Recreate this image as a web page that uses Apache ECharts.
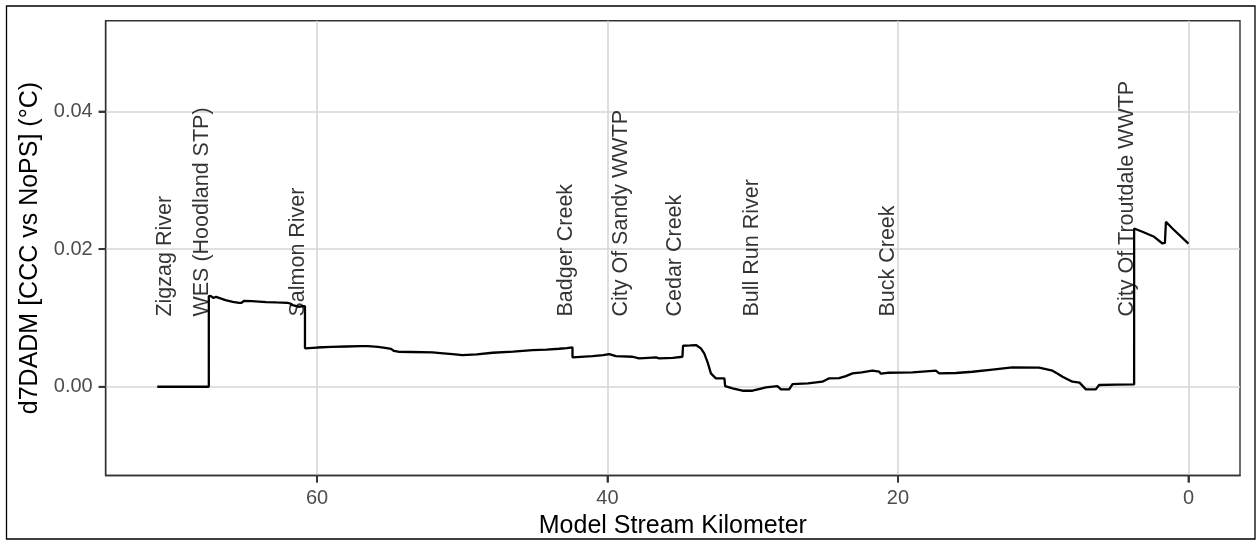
<!DOCTYPE html>
<html>
<head>
<meta charset="utf-8">
<script src="https://cdn.jsdelivr.net/npm/echarts@6/dist/echarts.min.js"></script>
<style>
html,body{margin:0;padding:0;background:#fff;}
#chart{width:1256px;height:540px;}
</style>
</head>
<body>
<div id="chart"></div>
<script>
// Model stream kilometer (x) and d7DADM difference (y, °C)
const streamKm = [
  71.0, 67.45, 67.45, 67.3, 67.15, 66.95, 66.85, 66.3, 65.8, 65.36, 65.2, 65.01, 64.5, 63.5, 62.8, 62.03, 61.85, 61.68, 61.23, 61.0, 60.83,
  60.83, 60.0, 59.0, 58.0, 57.0, 56.5, 55.8, 55.2, 54.9, 54.7, 54.34, 53.5, 52.05, 51.5, 50.67, 49.98, 49.0, 47.92, 46.5, 45.16, 44.2, 43.33, 42.8, 42.41,
  42.41, 41.03, 40.3, 39.88, 39.42, 38.28, 37.82, 37.2, 36.67, 36.44, 35.5, 34.84,
  34.8, 34.3, 33.91, 33.57, 33.34, 33.1, 32.88, 32.54, 31.95, 31.9, 31.39, 30.71, 30.02, 29.5, 29.09, 28.3, 28.06, 27.49, 27.26, 26.2, 25.2, 24.74,
  24.05, 23.59, 23.13, 22.5, 21.76, 21.3, 21.18, 21.07, 20.72, 19.0, 17.39, 17.16, 16.0, 14.87, 13.5, 12.12, 10.28, 9.36, 9.0, 8.67, 7.99, 7.5, 7.06, 6.38, 6.15, 5.0, 3.74,
  3.74, 3.17, 2.36, 1.79, 1.62, 1.55, 1.10, 0.0
];
const d7dadm = [
  0, 0, 0.0132, 0.01317, 0.0129, 0.01305, 0.0128, 0.0126, 0.01235, 0.0122, 0.0122, 0.01249, 0.01245, 0.0123, 0.01225, 0.0122, 0.0121, 0.01187, 0.01162, 0.0117, 0.0117,
  0.00558, 0.0057, 0.0058, 0.00585, 0.0059, 0.0059, 0.0058, 0.0056, 0.0055, 0.0052, 0.00508, 0.00505, 0.0050, 0.0049, 0.00475, 0.0046, 0.0047, 0.00494, 0.0051, 0.00533, 0.0054, 0.00552, 0.0056, 0.00572,
  0.00427, 0.00446, 0.0046, 0.00475, 0.00446, 0.00436, 0.00412, 0.0042, 0.00427, 0.00412, 0.0042, 0.00436,
  0.00596, 0.0060, 0.00606, 0.00557, 0.00485, 0.0035, 0.00194, 0.00122, 0.00122, 0.0001, -0.00024, -0.00058, -0.00058, -0.0003, -0.0001, 0.0001, -0.00038, -0.00038, 0.00039, 0.0005, 0.00073, 0.00122,
  0.00125, 0.00155, 0.00194, 0.0021, 0.00233, 0.0022, 0.0019, 0.0017, 0.00203, 0.0021, 0.00233, 0.00194, 0.0020, 0.00218, 0.0025, 0.00281, 0.00277, 0.00233, 0.0019, 0.00145, 0.00073, 0.0006, -0.00038, -0.00038, 0.00025, 0.0003, 0.00034,
  0.0230, 0.02252, 0.02179, 0.02082, 0.0209, 0.02397, 0.0230, 0.0208
];
// Source / tributary annotations
const siteNames = ['Zigzag River', 'WES (Hoodland STP)', 'Salmon River', 'Badger Creek', 'City Of Sandy WWTP', 'Cedar Creek', 'Bull Run River', 'Buck Creek', 'City Of Troutdale WWTP'];
const siteKm = [70.45, 67.92, 61.27, 42.84, 39.06, 35.34, 30.06, 20.65, 4.24];
const xTicks = [0, 20, 40, 60];
const yTicks = [0, 0.02, 0.04];

const LABEL_Y = 0.0102;
const TICK_LEN = 7;
const FONT = "'Liberation Sans', Arial, Helvetica, sans-serif";

const lineData = streamKm.map((x, i) => [x, d7dadm[i]]);
const siteData = siteNames.map((n, i) => ({ name: n, value: [siteKm[i], LABEL_Y] }));

const chart = echarts.init(document.getElementById('chart'), null, { renderer: 'canvas' });
chart.setOption({
  animation: false,
  backgroundColor: '#ffffff',
  textStyle: { fontFamily: FONT },
  graphic: [{
    type: 'rect', z: 100, silent: true,
    shape: { x: 6.5, y: 6, width: 1248.5, height: 533 },
    style: { fill: null, stroke: '#000', lineWidth: 1.3 }
  }],
  grid: {
    left: 105.7, right: 16, top: 20.7, bottom: 64.5,
    outerBoundsMode: 'none', containLabel: false,
    show: true, borderColor: '#333333', borderWidth: 1.4
  },
  xAxis: {
    type: 'value', inverse: true, min: -3.55, max: 74.55,
    name: 'Model Stream Kilometer', nameLocation: 'middle', nameGap: 36,
    nameTextStyle: { fontSize: 25, color: '#000', fontFamily: FONT },
    axisLine: { show: true, onZero: false, lineStyle: { color: '#333333', width: 1.4 } },
    axisTick: { show: true, length: TICK_LEN, lineStyle: { color: '#333333', width: 1.8 }, customValues: xTicks },
    axisLabel: { customValues: xTicks, fontSize: 20, color: '#4d4d4d', margin: 13, fontFamily: FONT },
    splitLine: { show: true, lineStyle: { color: '#d6d6d6', width: 1.6 } }
  },
  yAxis: {
    type: 'value', min: -0.0129, max: 0.0532,
    name: 'd7DADM [CCC vs NoPS] (°C)', nameLocation: 'middle', nameGap: 60,
    nameTextStyle: { fontSize: 25, color: '#000', fontFamily: FONT },
    axisLine: { show: true, onZero: false, lineStyle: { color: '#333333', width: 1.4 } },
    axisTick: { show: true, length: TICK_LEN, lineStyle: { color: '#333333', width: 1.8 }, customValues: yTicks },
    axisLabel: { customValues: yTicks, fontSize: 20, color: '#4d4d4d', margin: 13, fontFamily: FONT,
      formatter: v => v.toFixed(2) },
    splitLine: { show: true, lineStyle: { color: '#d6d6d6', width: 1.6 } }
  },
  series: [
    {
      type: 'line', data: lineData, showSymbol: false, symbol: 'none',
      lineStyle: { color: '#000', width: 2.3 }, z: 3
    },
    {
      type: 'scatter', data: siteData, symbolSize: 1,
      itemStyle: { color: 'transparent' }, z: 4,
      label: {
        show: true, formatter: p => p.name, position: 'inside',
        rotate: 90, align: 'left', verticalAlign: 'middle',
        fontSize: 21.5, color: '#000', fontFamily: FONT
      }
    },
    {
      // x-axis tick marks (outward, below the panel)
      type: 'custom', silent: true, clip: false, z: 50,
      data: xTicks.map(v => [v, 0]),
      renderItem: (params, api) => {
        const cs = params.coordSys;
        const px = api.coord([api.value(0), 0])[0];
        const yb = cs.y + cs.height;
        return { type: 'line', shape: { x1: px, y1: yb, x2: px, y2: yb + TICK_LEN },
          style: { stroke: '#333333', lineWidth: 1.8 } };
      }
    },
    {
      // y-axis tick marks (outward, left of the panel)
      type: 'custom', silent: true, clip: false, z: 50,
      data: yTicks.map(v => [0, v]),
      renderItem: (params, api) => {
        const cs = params.coordSys;
        const py = api.coord([0, api.value(1)])[1];
        return { type: 'line', shape: { x1: cs.x - TICK_LEN, y1: py, x2: cs.x, y2: py },
          style: { stroke: '#333333', lineWidth: 1.8 } };
      }
    }
  ]
});
</script>
</body>
</html>
